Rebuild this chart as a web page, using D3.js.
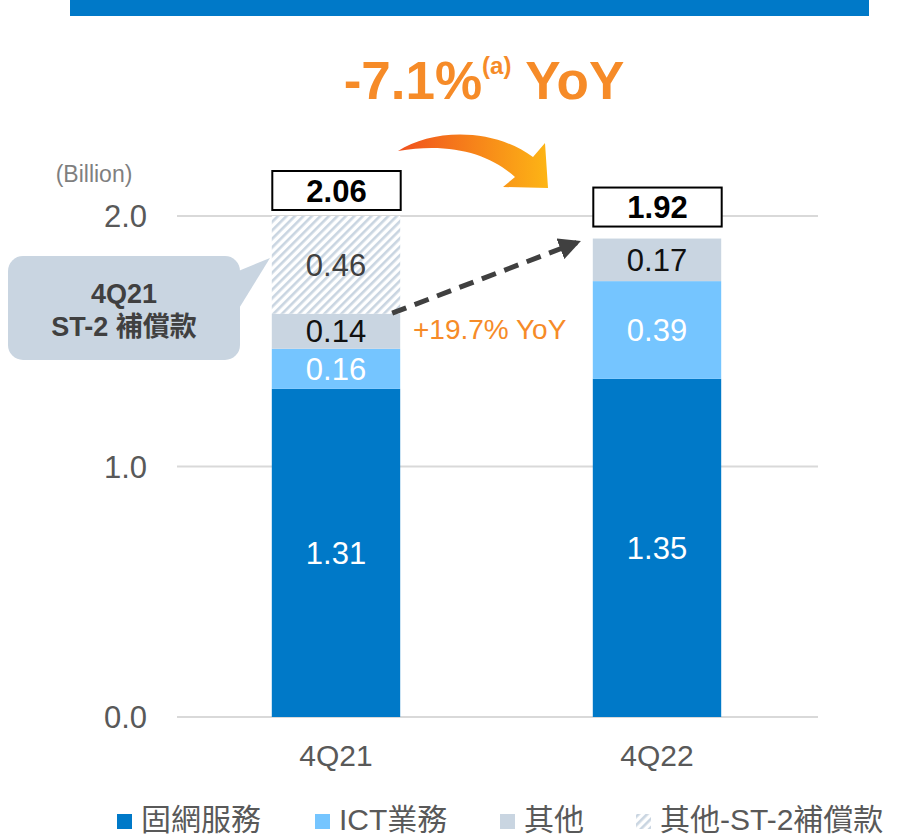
<!DOCTYPE html>
<html><head><meta charset="utf-8">
<script src="https://cdn.jsdelivr.net/npm/d3@7"></script>
<style>body{margin:0;background:#fff} svg{display:block}</style>
</head><body>
<svg id="c" width="899" height="836"></svg>
<script>
// ---- data ----
const categories = ["4Q21", "4Q22"];
const fixedNet = [1.31, 1.35];
const ict = [0.16, 0.39];
const other = [0.14, 0.17];
const otherST2 = [0.46, 0];
const segmentLabels = [["1.31","0.16","0.14","0.46"],["1.35","0.39","0.17",""]];
const totalLabels = ["2.06", "1.92"];
const yTicks = [0.0, 1.0, 2.0];
const legendLabels = ["固網服務", "ICT業務", "其他", "其他-ST-2補償款"];
const titleMain = "-7.1%", titleSup = "(a)", titleEnd = " YoY";
const otherYoY = "+19.7% YoY";
const calloutLines = ["4Q21", "ST-2 補償款"];
const unitLabel = "(Billion)";

// ---- styles ----
const FONT = "'Liberation Sans', Arial, 'Noto Sans CJK TC', sans-serif";
const BLUE = "#0079C8", LBLUE = "#75C5FF", GRAY = "#C9D5E1", ORANGE = "#F68B28";
const keys = ["fixedNet", "ict", "other", "otherST2"];
const fills = [BLUE, LBLUE, GRAY, "url(#hatch)"];
const labelColors = ["#ffffff", "#ffffff", "#111111", "#404040"];

const rows = categories.map((c, i) => ({
  cat: c, fixedNet: fixedNet[i], ict: ict[i], other: other[i], otherST2: otherST2[i]
}));

const svg = d3.select("#c").style("font-family", FONT);
const defs = svg.append("defs");

// hatch pattern
const pat = defs.append("pattern").attr("id", "hatch")
  .attr("patternUnits", "userSpaceOnUse").attr("width", 6).attr("height", 6)
  .attr("patternTransform", "rotate(45)");
pat.append("rect").attr("width", 6).attr("height", 6).attr("fill", "#fff");
pat.append("rect").attr("width", 2.6).attr("height", 6).attr("fill", GRAY);

// gradient for curved arrow
const grad = defs.append("linearGradient").attr("id", "ograd")
  .attr("x1", "0%").attr("x2", "100%").attr("y1", "0%").attr("y2", "0%");
grad.append("stop").attr("offset", "0%").attr("stop-color", "#F0501E");
grad.append("stop").attr("offset", "100%").attr("stop-color", "#FDB515");

defs.append("marker").attr("id", "dhead").attr("viewBox", "0 0 10 10")
  .attr("refX", 8).attr("refY", 5).attr("markerWidth", 4.4).attr("markerHeight", 4.4)
  .attr("markerUnits", "strokeWidth").attr("orient", "auto")
  .append("path").attr("d", "M0,0 L10,5 L0,10 Z").attr("fill", "#404040");

// ---- scales ----
const y = d3.scaleLinear().domain([0, 2.0]).range([717, 216]);
const x = d3.scaleBand().domain(categories).range([175.5, 817.5])
  .paddingInner(0.6).paddingOuter(0.3);
const bw = x.bandwidth();

defs.append("clipPath").attr("id", "plotclip").append("rect")
  .attr("x", 0).attr("y", y(2.0)).attr("width", 899).attr("height", y(0) - y(2.0));

// top banner
svg.append("rect").attr("x", 70).attr("y", 0).attr("width", 799).attr("height", 16).attr("fill", BLUE);

// title
const t = svg.append("text").attr("x", 484).attr("y", 99).attr("text-anchor", "middle")
  .attr("fill", ORANGE).attr("font-weight", "bold").attr("font-size", 53);
t.append("tspan").text(titleMain);
t.append("tspan").attr("font-size", 24).attr("dy", -25).text(titleSup);
t.append("tspan").attr("dy", 25).text(titleEnd);

// gridlines
svg.append("g").selectAll("line").data(yTicks).join("line")
  .attr("x1", 177).attr("x2", 818).attr("y1", d => y(d)).attr("y2", d => y(d))
  .attr("stroke", "#D9D9D9").attr("stroke-width", 2);

// y axis labels
const yAxis = d3.axisLeft(y).tickValues(yTicks).tickFormat(d3.format(".1f")).tickSize(0).tickPadding(0);
const ya = svg.append("g").attr("transform", "translate(147,0)").call(yAxis);
ya.select(".domain").remove();
ya.selectAll("text").attr("font-size", 31).attr("fill", "#595959").attr("font-family", FONT).attr("dy", "0.35em");

svg.append("text").attr("x", 94).attr("y", 182).attr("text-anchor", "middle")
  .attr("font-size", 23).attr("fill", "#7F7F7F").text(unitLabel);

// x axis labels
const xAxis = d3.axisBottom(x).tickSize(0).tickPadding(0);
const xa = svg.append("g").attr("transform", "translate(0,745)").call(xAxis);
xa.select(".domain").remove();
xa.selectAll("text").attr("font-size", 30).attr("fill", "#595959").attr("font-family", FONT).attr("dy", "0.71em");

// stacked bars
const stacked = d3.stack().keys(keys)(rows);
const barG = svg.append("g").attr("clip-path", "url(#plotclip)");
stacked.forEach((layer, li) => {
  barG.selectAll(null).data(layer.filter(d => d[1] > d[0])).join("rect")
    .attr("x", d => x(d.data.cat)).attr("width", bw)
    .attr("y", d => y(d[1])).attr("height", d => y(d[0]) - y(d[1]))
    .attr("fill", fills[li]);
});

// segment labels
stacked.forEach((layer, li) => {
  svg.selectAll(null).data(layer.filter(d => d[1] > d[0])).join("text")
    .attr("x", d => x(d.data.cat) + bw / 2)
    .attr("y", d => (y(Math.min(d[1], 2.0)) + y(d[0])) / 2)
    .attr("dy", "0.36em").attr("text-anchor", "middle")
    .attr("font-size", 31).attr("fill", labelColors[li])
    .text(d => segmentLabels[categories.indexOf(d.data.cat)][li]);
});

// totals boxes
const boxGap = [6, 12];
const boxH = 39;
rows.forEach((r, i) => {
  const top = keys.reduce((s, k) => s + r[k], 0);
  const yb = y(Math.min(top, 2.0)) - boxGap[i];
  svg.append("rect").attr("x", x(r.cat) + 0.5).attr("y", yb - boxH).attr("width", bw).attr("height", boxH)
    .attr("fill", "#fff").attr("stroke", "#000").attr("stroke-width", 2);
  svg.append("text").attr("x", x(r.cat) + bw / 2 + 0.5).attr("y", yb - boxH / 2).attr("dy", "0.36em")
    .attr("text-anchor", "middle").attr("font-weight", "bold").attr("font-size", 31).attr("fill", "#000")
    .text(totalLabels[i]);
});

// curved orange arrow
svg.append("path")
  .attr("d", "M398,151 C432,129 492,127 533,157 L545,143 L548,188 L503,187 L515,177 C490,154 450,142 398,151 Z")
  .attr("fill", "url(#ograd)");

// dashed arrow (other growth)
const x0 = x(categories[0]) + bw, x1 = x(categories[1]);
svg.append("line").attr("x1", x0 - 8).attr("y1", y(fixedNet[0] + ict[0] + other[0]) - 0.5)
  .attr("x2", x1 - 16).attr("y2", y(fixedNet[1] + ict[1] + other[1]) + 4)
  .attr("stroke", "#404040").attr("stroke-width", 5).attr("stroke-dasharray", "15,9")
  .attr("marker-end", "url(#dhead)");

svg.append("text").attr("x", 413).attr("y", 339).attr("font-size", 28).attr("fill", ORANGE).text(otherYoY);

// callout
const cg = svg.append("g");
cg.append("path").attr("d", "M236,272 L270,258 L238,310 Z").attr("fill", GRAY);
cg.append("rect").attr("x", 8).attr("y", 256).attr("width", 232).attr("height", 104).attr("rx", 15)
  .attr("fill", GRAY);
cg.selectAll("text").data(calloutLines).join("text")
  .attr("x", 124).attr("y", (d, i) => 303 + i * 33).attr("text-anchor", "middle")
  .attr("font-weight", "bold").attr("font-size", 27).attr("fill", "#404040").text(d => d);

// legend
const legendX = [117, 315, 500, 636];
const legendFill = [BLUE, LBLUE, GRAY, "url(#hatch)"];
const lg = svg.append("g");
legendLabels.forEach((lab, i) => {
  lg.append("rect").attr("x", legendX[i]).attr("y", 814).attr("width", 15).attr("height", 15).attr("fill", legendFill[i]);
  lg.append("text").attr("x", legendX[i] + 24).attr("y", 830).attr("font-size", 30).attr("fill", "#595959").text(lab);
});
</script>
</body></html>
